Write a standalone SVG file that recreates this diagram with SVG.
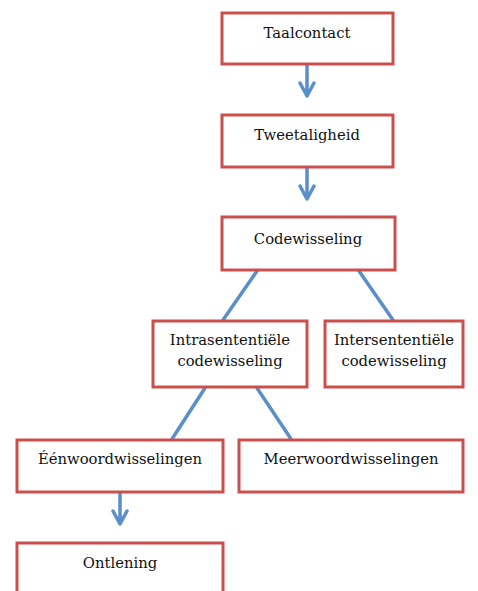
<svg xmlns="http://www.w3.org/2000/svg" width="478" height="591" viewBox="0 0 478 591">
<style>
.box{fill:#fff;stroke:#c9504d;stroke-width:3}
.t{font-family:"DejaVu Serif","Liberation Serif",serif;font-size:14.8px;fill:#111;text-anchor:middle}
.c{stroke:#5a8fc9;stroke-width:3.5;fill:none;stroke-linecap:round;stroke-linejoin:round}
</style>
<rect width="478" height="591" fill="#fff"/>
<g id="connectors">
<path class="c" d="M307 65V96M300 83L307 96L314 83"/>
<path class="c" d="M307 168V199M300 186L307 199L314 186"/>
<path class="c" d="M257 271L223 320"/>
<path class="c" d="M359 271L393 320"/>
<path class="c" d="M205 388L172 439"/>
<path class="c" d="M257 388L291 439"/>
<path class="c" d="M120 493V524M113 511L120 524L127 511"/>
</g>
<g id="taalcontact"><rect class="box" x="222" y="13" width="171" height="51"/><text class="t" x="307" y="38">Taalcontact</text></g>
<g id="tweetaligheid"><rect class="box" x="222" y="115" width="171" height="52"/><text class="t" x="307" y="140">Tweetaligheid</text></g>
<g id="codewisseling"><rect class="box" x="222" y="217" width="173" height="53"/><text class="t" x="308" y="244">Codewisseling</text></g>
<g id="intra"><rect class="box" x="153" y="321" width="154" height="66"/><text class="t" x="230" y="345">Intrasententiële</text><text class="t" x="230" y="366">codewisseling</text></g>
<g id="inter"><rect class="box" x="325" y="321" width="138" height="66"/><text class="t" x="394" y="345">Intersententiële</text><text class="t" x="394" y="366">codewisseling</text></g>
<g id="eenwoord"><rect class="box" x="17" y="440" width="206" height="52"/><text class="t" x="120" y="464">Éénwoordwisselingen</text></g>
<g id="meerwoord"><rect class="box" x="239" y="440" width="224" height="52"/><text class="t" x="351" y="464">Meerwoordwisselingen</text></g>
<g id="ontlening"><rect class="box" x="17" y="543" width="206" height="60"/><text class="t" x="120" y="568">Ontlening</text></g>
</svg>
